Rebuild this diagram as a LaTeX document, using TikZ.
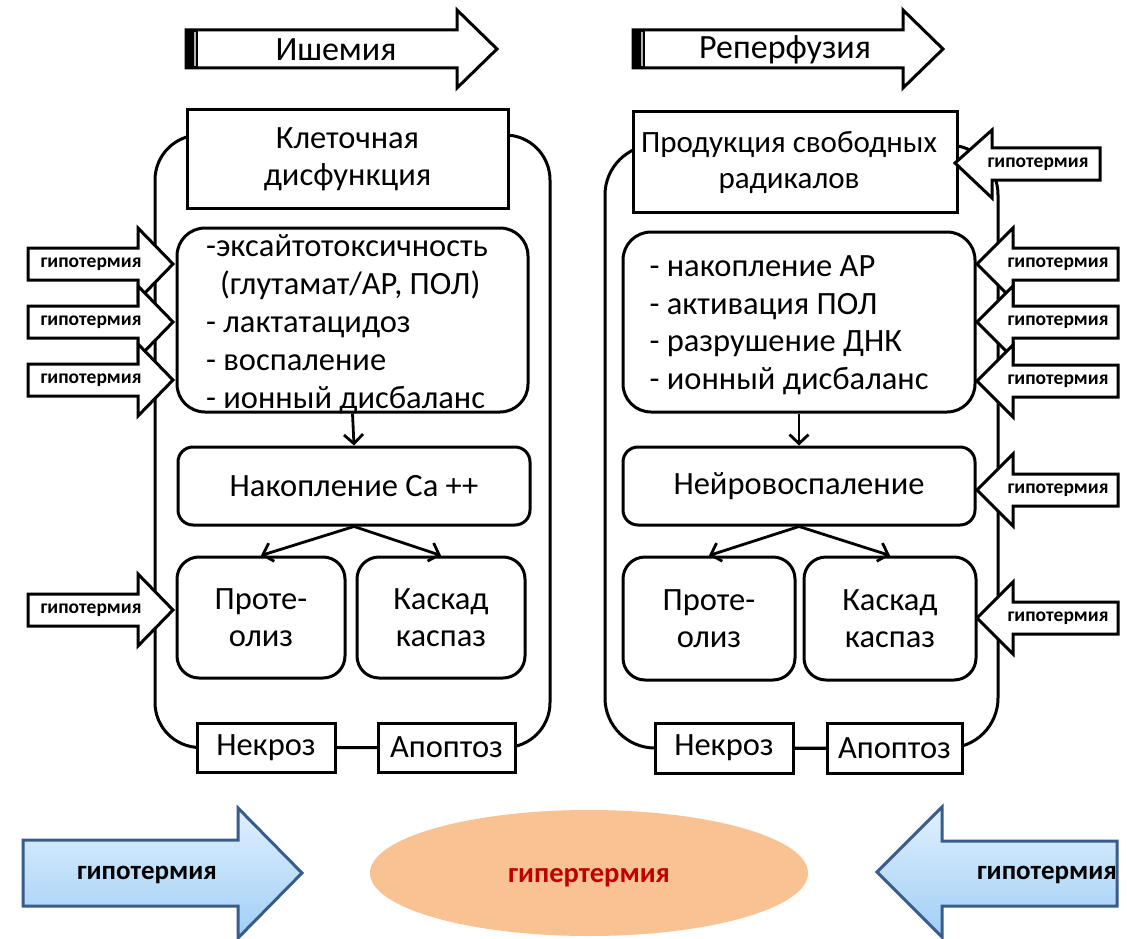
\documentclass[tikz,border=0pt]{standalone}
\usepackage{fontspec}
\setmainfont{Carlito}
\usetikzlibrary{arrows.meta,shapes.geometric}
\definecolor{hypfill}{RGB}{249,194,146}
\definecolor{hypred}{RGB}{192,0,0}
\definecolor{bluedge}{RGB}{56,93,138}
\definecolor{bluetop}{RGB}{224,240,253}
\definecolor{bluebot}{RGB}{160,206,246}
\newcommand\hypoRight[2]{% name, y  (arrow pointing right, left side)
  \draw[outl, fill=white] (28,#2-16) -- (138,#2-16) -- (138,#2-36) -- (173,#2) -- (138,#2+36) -- (138,#2+16) -- (28,#2+16) -- cycle;
  \node[smalllab] (#1) at (91,#2) {гипотермия};}
\newcommand\hypoLeft[2]{% name, y (arrow pointing left, right side)
  \draw[outl, fill=white] (1118,#2-16) -- (1013,#2-16) -- (1013,#2-36) -- (977,#2) -- (1013,#2+36) -- (1013,#2+16) -- (1118,#2+16) -- cycle;
  \node[smalllab] (#1) at (1058,#2) {гипотермия};}
\begin{document}
\begin{tikzpicture}[x=1pt,y=-1pt,line join=miter]
\tikzset{
  outl/.style={draw=black, line width=3pt},
  sqbox/.style={outl, fill=white, rectangle, inner sep=0pt, align=center, font=\fontsize{32.5}{37}\selectfont},
  rbox/.style={sqbox, rounded corners=#1},
  rbox/.default=18pt,
  conn/.style={line width=2.8pt, -{Straight Barb[length=9pt,width=19pt,line width=2.8pt]}},
  smalllab/.style={font=\bfseries\fontsize{19.5}{22}\selectfont, inner sep=0pt},
  biglab/.style={font=\bfseries\fontsize{27}{30}\selectfont, inner sep=0pt},
  toplab/.style={font=\fontsize{34}{38}\selectfont, inner sep=0pt},
  bluearrow/.style={draw=bluedge, line width=3pt, top color=bluetop, bottom color=bluebot}
}
\useasboundingbox (0,0) rectangle (1127,939);
\fill[white] (0,0) rectangle (1127,939);

% top arrows
\draw[outl, fill=white] (186,30) -- (457,30) -- (457,10) -- (497,49) -- (457,88) -- (457,68) -- (186,68) -- cycle;
\fill[black] (186,30) rectangle (198,68);
\draw[gray!60, line width=1.2pt] (195,32) -- (195,66);
\node[toplab] (isch) at (336,50) {Ишемия};
\draw[outl, fill=white] (633,30) -- (903,30) -- (903,10) -- (943,49) -- (903,88) -- (903,68) -- (633,68) -- cycle;
\fill[black] (633,30) rectangle (645,68);
\draw[gray!60, line width=1.2pt] (642,32) -- (642,66);
\node[toplab] (reperf) at (785,50) {Реперфузия};

% containers
\draw[outl, rounded corners=45pt] (155,135) rectangle (550,747.5);
\draw[outl, rounded corners=50pt] (605,145) rectangle (998,748);

% left column
\node[sqbox, minimum width=321pt, minimum height=98pt] (kd) at (347.5,159) {Клеточная\\дисфункция};
\node[rbox=28pt, minimum width=351pt, minimum height=184pt] (llist) at (352.5,320) {};
\node[inner sep=0pt, align=left, font=\fontsize{32.5}{38}\selectfont] (llisttext) at (347,324)
  {-эксайтотоксичность\\\hspace*{14pt}(глутамат/АР, ПОЛ)\\- лактатацидоз\\- воспаление\\- ионный дисбаланс};
\node[rbox=15pt, minimum width=352pt, minimum height=78pt] (ca) at (354,486) {Накопление Са ++};
\node[rbox=22pt, minimum width=168pt, minimum height=121pt] (prot) at (261,617.5) {Проте-\\олиз};
\node[rbox=22pt, minimum width=168pt, minimum height=121pt] (kask) at (441,617.5) {Каскад\\каспаз};
\node[sqbox, minimum width=138pt, minimum height=49pt] (nek) at (266,747.5) {Некроз};
\node[sqbox, minimum width=137pt, minimum height=49pt] (apo) at (446.5,747.5) {Апоптоз};
\draw[line width=3pt] (nek) -- (apo);
\draw[conn] (llist.south) -- (ca.north);
\draw[conn] (ca.south) -- (prot.north);
\draw[conn] (ca.south) -- (kask.north);

% right column
\node[sqbox, minimum width=324pt, minimum height=100pt] (prod) at (795,162) {};
\node[inner sep=0pt, align=center, font=\fontsize{31}{36}\selectfont] (prodtext) at (789,162) {Продукция свободных\\радикалов};
\node[rbox=28pt, minimum width=352pt, minimum height=180pt] (rlist) at (799,322) {};
\node[inner sep=0pt, align=left, font=\fontsize{32.5}{37.5}\selectfont] (rlisttext) at (789,325)
  {- накопление АР\\- активация ПОЛ\\- разрушение ДНК\\- ионный дисбаланс};
\node[rbox=15pt, minimum width=352pt, minimum height=78pt] (neuro) at (799,486) {Нейровоспаление};
\node[rbox=22pt, minimum width=172pt, minimum height=123pt] (rprot) at (709,618.5) {Проте-\\олиз};
\node[rbox=22pt, minimum width=172pt, minimum height=123pt] (rkask) at (890,618.5) {Каскад\\каспаз};
\node[sqbox, minimum width=138pt, minimum height=50pt] (rnek) at (724,748) {Некроз};
\node[sqbox, minimum width=135pt, minimum height=50pt] (rapo) at (894.5,748) {Апоптоз};
\draw[line width=3pt] (rnek) -- (rapo);
\draw[conn] (rlist.south) -- (neuro.north);
\draw[conn] (neuro.south) -- (rprot.north);
\draw[conn] (neuro.south) -- (rkask.north);

% small hypothermia arrows
\hypoRight{hl1}{264}
\hypoRight{hl2}{322}
\hypoRight{hl3}{380}
\hypoRight{hl4}{610}
\draw[outl, fill=white] (1100,148) -- (992,148) -- (992,130) -- (955,163) -- (992,198) -- (992,180) -- (1100,180) -- cycle;
\node[smalllab] (hr0) at (1038,164) {гипотермия};
\hypoLeft{hr1}{264}
\hypoLeft{hr2}{322}
\hypoLeft{hr3}{381}
\hypoLeft{hr4}{490}
\hypoLeft{hr5}{618}

% bottom
\path[bluearrow] (23,840) -- (238,840) -- (238,808) -- (302,873) -- (238,938) -- (238,906) -- (23,906) -- cycle;
\node[biglab] (hb1) at (147,875) {гипотермия};
\path[bluearrow] (1117,841) -- (942,841) -- (942,807) -- (877,872) -- (942,937) -- (942,906) -- (1117,906) -- cycle;
\node[biglab] (hb2) at (1047,875) {гипотермия};
\node[ellipse, fill=hypfill, minimum width=438pt, minimum height=126pt, inner sep=0pt] (hyper) at (589,873) {};
\node[biglab, text=hypred, font=\bfseries\fontsize{28.5}{32}\selectfont] (hypertext) at (589,878) {гипертермия};
\end{tikzpicture}
\end{document}
